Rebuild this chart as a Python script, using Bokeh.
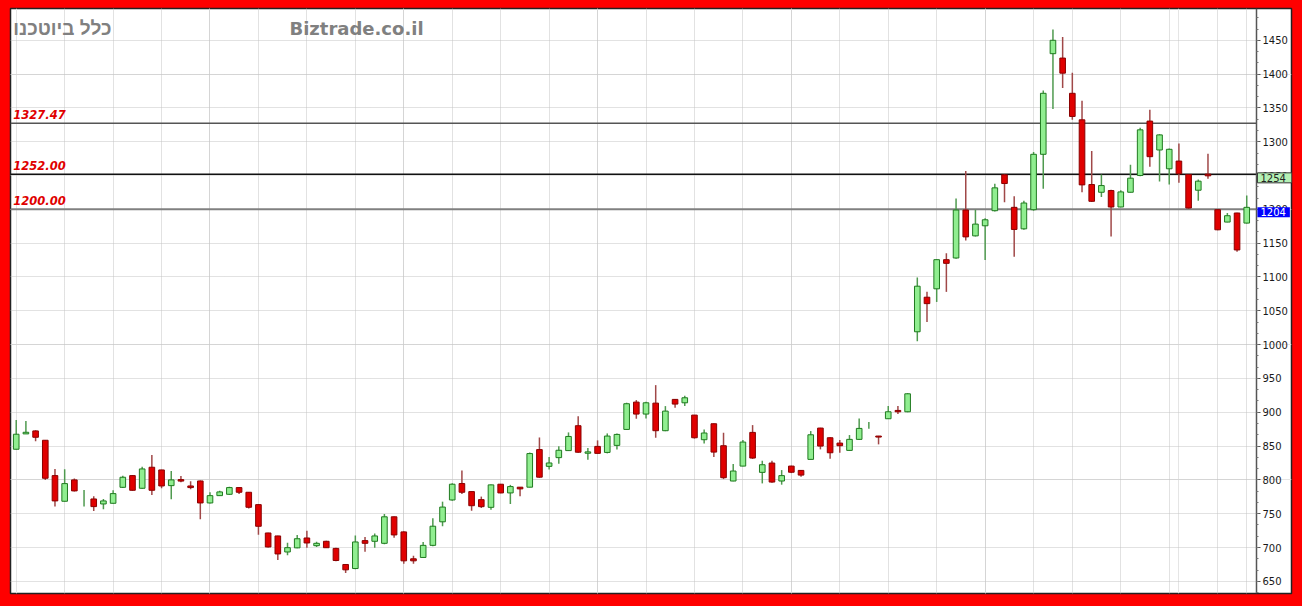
import math
from bokeh.plotting import figure
from bokeh.models import (ColumnDataSource, Label, Grid, FixedTicker,
                          SingleIntervalTicker, LinearAxis)
from bokeh.embed import file_html
from bokeh.resources import INLINE

# ---- data ----
opens = [845.3, 868.0, 872.4, 858.6, 806.3, 768.4, 800.0, 772.0, 771.8, 764.4,
         765.4, 789.0, 806.3, 787.6, 818.7, 814.7, 791.5, 800.4, 791.0, 798.4,
         765.9, 776.7, 778.7, 788.6, 781.7, 763.4, 721.5, 717.1, 693.4, 699.5,
         714.1, 702.7, 709.2, 698.7, 674.9, 668.9, 710.2, 709.2, 706.2, 745.4,
         723.1, 683.3, 685.3, 703.2, 738.0, 770.3, 794.6, 782.7, 770.8, 759.4,
         793.6, 780.7, 789.2, 789.2, 844.8, 820.0, 832.9, 843.3, 880.1, 839.4,
         849.5, 840.6, 851.0, 874.6, 915.0, 897.3, 913.5, 872.7, 919.0, 914.0,
         895.8, 859.4, 883.0, 850.5, 798.3, 820.4, 870.2, 811.1, 824.9, 798.3,
         820.4, 814.0, 830.3, 876.6, 862.3, 854.4, 843.6, 859.9, 880.0, 864.8,
         890.4, 902.7, 900.7, 1019.0, 1070.1, 1082.5, 1125.6, 1128.1, 1199.0, 1160.8,
         1175.7, 1198.0, 1251.1, 1203.0, 1171.2, 1199.5, 1281.4, 1430.2, 1423.7, 1371.6,
         1332.4, 1236.7, 1225.3, 1227.8, 1203.5, 1225.3, 1250.1, 1330.5, 1287.8, 1260.0,
         1271.4, 1251.6, 1228.3, 1252.1, 1199.5, 1181.2, 1194.6, 1179.7]
highs = [888.7, 887.2, 873.5, 858.6, 816.2, 815.7, 802.0, 785.1, 775.8, 771.8,
         784.6, 806.0, 807.3, 819.6, 836.9, 815.0, 813.2, 805.8, 798.0, 799.0,
         781.7, 784.0, 790.0, 789.0, 782.0, 764.0, 722.0, 717.5, 707.2, 718.6,
         724.6, 708.7, 710.0, 699.7, 675.5, 717.6, 715.6, 720.6, 749.4, 746.0,
         724.0, 687.8, 708.2, 743.4, 767.8, 795.0, 814.0, 783.0, 775.3, 793.0,
         794.0, 792.6, 789.5, 840.4, 862.7, 833.9, 849.8, 870.2, 894.0, 847.3,
         858.4, 868.7, 868.5, 914.1, 918.0, 915.5, 940.1, 909.1, 919.5, 924.4,
         896.0, 874.6, 883.5, 869.7, 823.4, 858.9, 881.0, 828.3, 828.3, 814.5,
         821.0, 814.5, 872.2, 877.0, 863.0, 858.9, 866.3, 890.9, 885.5, 865.0,
         909.1, 909.1, 928.3, 1099.3, 1078.0, 1126.0, 1135.0, 1215.9, 1256.6, 1199.5,
         1187.0, 1237.7, 1252.0, 1219.4, 1212.9, 1284.8, 1375.6, 1465.9, 1455.0, 1401.9,
         1360.7, 1286.3, 1251.6, 1229.0, 1228.3, 1266.0, 1320.6, 1347.3, 1311.0, 1290.0,
         1297.2, 1252.0, 1244.2, 1282.4, 1200.0, 1194.6, 1195.0, 1220.4]
lows = [845.0, 868.0, 857.1, 800.0, 760.5, 768.0, 783.0, 760.5, 754.0, 756.5,
        765.0, 788.0, 784.0, 787.0, 777.7, 787.6, 771.3, 796.5, 786.0, 741.7,
        765.0, 776.0, 777.7, 779.2, 757.5, 719.0, 700.0, 681.6, 688.5, 699.0,
        699.7, 700.7, 699.2, 679.8, 662.4, 668.0, 693.7, 699.7, 705.0, 714.6,
        675.9, 675.9, 685.0, 702.0, 731.5, 769.0, 779.2, 754.4, 758.4, 755.9,
        780.2, 764.3, 775.7, 789.0, 803.0, 815.5, 824.0, 843.0, 840.0, 829.9,
        839.0, 839.2, 845.1, 874.0, 890.4, 890.9, 862.3, 872.0, 906.6, 909.1,
        861.0, 853.9, 833.7, 801.2, 798.0, 820.0, 831.0, 794.8, 795.8, 792.9,
        810.0, 804.7, 830.0, 845.1, 831.3, 840.1, 843.0, 859.0, 875.6, 852.5,
        890.0, 897.3, 900.0, 1005.0, 1033.4, 1063.1, 1078.0, 1127.0, 1153.9, 1160.0,
        1125.1, 1197.0, 1210.4, 1130.1, 1170.0, 1198.0, 1230.3, 1348.3, 1379.6, 1332.4,
        1225.3, 1211.0, 1218.4, 1159.8, 1203.0, 1225.0, 1249.0, 1263.0, 1241.2, 1236.7,
        1239.2, 1201.0, 1212.9, 1245.2, 1169.0, 1181.0, 1137.5, 1179.0]
closes = [867.5, 870.4, 863.0, 802.4, 768.9, 794.5, 783.7, 772.0, 760.5, 768.9,
          779.7, 803.9, 784.6, 816.2, 784.6, 791.0, 800.0, 798.2, 788.6, 765.9,
          776.7, 782.2, 788.6, 781.7, 759.5, 731.4, 700.8, 690.5, 699.8, 713.0,
          706.7, 706.2, 699.7, 680.8, 667.0, 708.2, 706.2, 717.1, 745.4, 718.6,
          680.3, 680.3, 703.2, 731.5, 759.8, 793.6, 781.7, 761.8, 760.4, 792.6,
          780.7, 790.1, 786.7, 838.9, 804.0, 825.0, 843.8, 864.2, 840.9, 841.4,
          839.2, 864.8, 867.2, 912.6, 897.3, 914.0, 872.7, 901.7, 912.1, 921.4,
          862.3, 869.3, 841.1, 803.2, 813.1, 855.9, 832.3, 822.4, 796.8, 806.3,
          811.3, 807.1, 866.7, 850.0, 840.1, 850.5, 859.9, 876.1, 880.0, 863.3,
          900.7, 900.7, 927.3, 1086.4, 1060.6, 1125.6, 1120.2, 1199.0, 1159.3, 1178.2,
          1184.6, 1231.8, 1238.2, 1170.3, 1209.4, 1281.4, 1371.6, 1450.0, 1401.4, 1337.4,
          1236.2, 1211.9, 1235.2, 1203.5, 1225.8, 1246.1, 1317.6, 1277.9, 1310.1, 1288.8,
          1252.6, 1202.0, 1241.7, 1249.6, 1169.8, 1190.6, 1140.0, 1203.0]

week_ticks = [5, 10, 15, 20, 25, 30, 35, 40, 45, 50, 55, 60, 65, 70, 75, 80, 85,
              90, 95, 100, 105, 109, 114, 119, 124, 127]
levels = [1327.47, 1252.00, 1200.00]
level_texts = ["1327.47", "1252.00", "1200.00"]
last_close_text = "1204"
marker_value = 1254
marker_text = "1254"
title_he = "כלל ביוטכנו"
title_site = "Biztrade.co.il"

# ---- layout constants ----
x_start, x_end = -0.59, 131.62     # frame spans the white area, incl. the price scale
axis_x = 128.0                     # where the price scale sits
y_start, y_end = 632, 1497

# ---- derived columns ----
n = len(opens)
idx = list(range(n))
up = [c >= o for o, c in zip(opens, closes)]
wick_colors = ["#4f9a4f" if u else "#a04848" for u in up]
src_w = ColumnDataSource(dict(x=idx, low=lows, high=highs, color=wick_colors))

bx, bt, bb, bf, bl = [], [], [], [], []
for i in idx:
    if opens[i] == closes[i]:
        continue
    bx.append(i)
    bt.append(max(opens[i], closes[i]))
    bb.append(min(opens[i], closes[i]))
    bf.append("#90ee90" if up[i] else "#e00000")
    bl.append("#1f7a1f" if up[i] else "#8a0000")
src_b = ColumnDataSource(dict(x=bx, top=bt, bottom=bb, fill=bf, line=bl))

lvl_src = ColumnDataSource(dict(
    y=levels,
    x0=[x_start] * len(levels),
    x1=[axis_x, x_end, axis_x],
    color=["#555555", "#111111", "#808080"],
    width=[1.5, 1.5, 2.0],
))

p = figure(width=1294, height=598, x_range=(x_start, x_end), y_range=(y_start, y_end),
           x_axis_location=None, y_axis_location=None,
           toolbar_location=None, output_backend="svg",
           min_border_left=10, min_border_top=8, min_border_bottom=5, min_border_right=3,
           background_fill_color="white", border_fill_color="#ff0000",
           outline_line_color="#222222", outline_line_width=1.5)

yt = SingleIntervalTicker(interval=50, num_minor_ticks=3)
p.add_layout(Grid(dimension=1, ticker=yt, grid_line_color="#c4c4c4", grid_line_dash="1 1",
                  cross_bounds=(x_start, axis_x)))
p.add_layout(Grid(dimension=0, ticker=FixedTicker(ticks=week_ticks),
                  grid_line_color="#c4c4c4", grid_line_dash="1 1"))

ax = LinearAxis(ticker=yt, fixed_location=axis_x)
ax.axis_line_color = "#555555"
ax.axis_line_width = 1.5
ax.major_tick_line_color = "#555555"
ax.minor_tick_line_color = "#777777"
ax.major_tick_out = 4
ax.major_tick_in = 0
ax.minor_tick_out = 2
ax.minor_tick_in = 0
ax.major_label_standoff = 2
ax.major_label_text_font = "DejaVu Sans"
ax.major_label_text_font_size = "10px"
ax.major_label_text_color = "#1a1a1a"
p.add_layout(ax, "right")

# level lines
p.segment(x0="x0", y0="y", x1="x1", y1="y", source=lvl_src, line_color="color", line_width="width")

# candles
p.segment(x0="x", y0="low", x1="x", y1="high", source=src_w, line_color="color", line_width=1.5)
p.vbar(x="x", top="top", bottom="bottom", width=0.58, source=src_b,
       fill_color="fill", line_color="line", line_width=1)

# level labels
for lv, txt in zip(levels, level_texts):
    p.add_layout(Label(x=-0.3, y=lv + 13, text=txt, text_baseline="middle", text_align="left",
                       text_font="DejaVu Sans", text_font_size="11.5px", text_font_style="bold italic",
                       text_color="#e00000"))

# titles
p.add_layout(Label(x=-0.3, y=1467.7, text=title_he, text_baseline="middle", text_align="left",
                   text_font="Liberation Sans", text_font_size="19px", text_font_style="bold",
                   text_color="#808080"))
p.add_layout(Label(x=28.2, y=1467.7, text=title_site, text_baseline="middle", text_align="left",
                   text_font="DejaVu Sans", text_font_size="18px", text_font_style="bold",
                   text_color="#808080"))

# price markers on the scale
p.add_layout(Label(x=axis_x, y=marker_value, text=marker_text, text_baseline="top", text_align="left",
                   x_offset=1, text_font="DejaVu Sans", text_font_size="10px", text_color="#222222",
                   background_fill_color="#b4f0b4", border_line_color="#333333",
                   padding=(3, 6, 1, 1)))
p.add_layout(Label(x=axis_x, y=closes[-1], text=last_close_text, text_baseline="top", text_align="left",
                   x_offset=1, text_font="DejaVu Sans", text_font_size="10px", text_color="white",
                   background_fill_color="#0000ff", padding=(3, 4, 1, 1)))

html = file_html(p, INLINE)
html = html.replace("</head>", "<style>html, body { background: #ff0000; }</style></head>", 1)
open("out.html", "w").write(html)
